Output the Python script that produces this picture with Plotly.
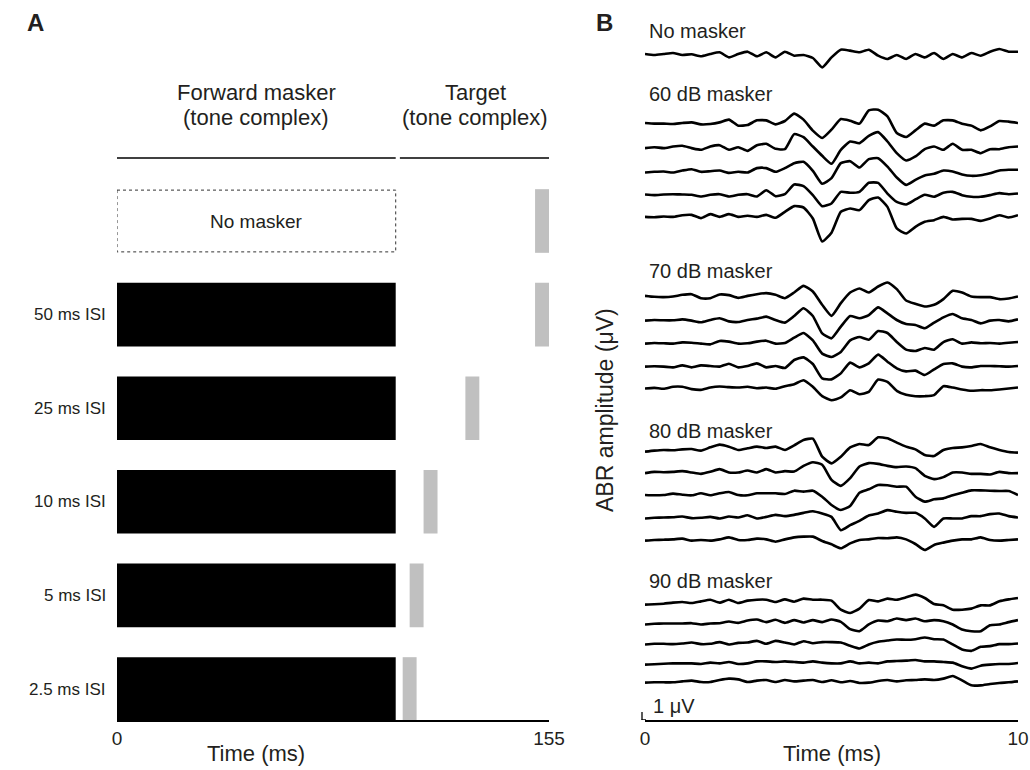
import plotly.graph_objects as go

# ---------------- Panel A data ----------------
conditions = ["No masker", "50 ms ISI", "25 ms ISI", "10 ms ISI", "5 ms ISI", "2.5 ms ISI"]
has_masker = [False, True, True, True, True, True]
isi_ms = [50, 50, 25, 10, 5, 2.5]
masker_ms = 100
target_ms = 5
time_ticks_a = [0, 155]

# ---------------- Panel B data (ABR traces, µV) ----------------
abr_time_ms = [0, 0.25, 0.5, 0.75, 1, 1.25, 1.5, 1.75, 2, 2.25, 2.5, 2.75, 3, 3.25, 3.5, 3.75,
               4, 4.25, 4.5, 4.75, 5, 5.25, 5.5, 5.75, 6, 6.25, 6.5, 6.75, 7, 7.25, 7.5, 7.75,
               8, 8.25, 8.5, 8.75, 9, 9.25, 9.5, 9.75, 10]
time_ticks_b = [0, 10]

abr_no_masker = [0, -0.12, 0, 0.12, -0.12, -0.04, -0.29, 0, 0.21, -0.42, 0, 0.29, -0.29, 0.21, -0.42, 0.29,
                 -0.21, -0.12, -0.5, -1.67, -0.42, 0.54, 0.42, 0.21, 0.54, -0.21, -0.62, -0.12, -0.62, 0,
                 -0.42, 0.12, -0.62, 0, -0.42, 0.12, -0.21, 0.29, 0.62, 0.29, 0.29]

abr_60db = [
    [0, -0.08, -0.08, -0.12, 0, 0.08, -0.17, -0.12, 0.08, 0.42, -0.33, -0.25, 0.33, 0.33, -0.17, 0.25,
     1.17, 0.42, -0.96, -1.87, -0.83, 0.5, 0.29, -0.08, 1.58, 1.67, 0.83, -1.25, -1.75, -0.92, -0.08,
     -0.33, 0.33, 0.33, -0.08, -0.33, -0.92, -0.42, 0.25, 0.17, 0],
    [-0.08, 0.04, -0.08, 0.12, 0.21, -0.08, -0.29, 0.12, 0.29, -0.29, 0.04, -0.42, 0.29, 0.46, -0.17, -0.21,
     1.67, 1.29, 0.12, -1.04, -2.04, -0.29, 0.75, 0.54, 1.46, 1.92, 0.75, -0.71, -1.62, -1.12, -0.21,
     0.12, -0.29, 0.46, -0.29, -0.29, -0.71, -0.21, -0.21, 0.04, 0.12],
    [-0.12, -0.04, 0, -0.12, 0.12, 0.29, -0.04, 0.04, 0.12, -0.17, -0.04, -0.12, 0.42, 0.42, -0.04, 0.42,
     1.04, 1.21, 0.08, -1.54, -0.83, 1.04, 1.29, 0.5, 1.54, 1.67, 0.62, -0.75, -1.67, -1.04, -0.5,
     -0.29, 0.12, 0, -0.37, -0.54, -0.46, -0.21, 0.12, 0.21, 0.21],
    [0, -0.08, 0, 0.04, 0, -0.04, -0.25, -0.04, 0.04, -0.25, -0.04, 0.04, -0.25, 0.54, -0.21, 0.04,
     1.25, 1.04, -0.08, -1.46, -1.12, 0.33, 0.21, 0.33, 1.46, 1.46, 0.12, -0.92, -1.25, -0.62, -0.04,
     -0.29, 0.21, 0.33, -0.08, -0.29, -0.29, -0.08, 0.17, 0.04, 0.12],
    [0.08, 0.04, 0.12, 0.08, 0.29, 0.33, -0.08, 0.42, 0.08, 0.42, 0.08, 0.21, 0.08, 0.33, -0.04, 0.71,
     1.42, 1.25, -0.12, -3.0, -1.9, 0.71, 1.12, 0.92, 2.17, 2.5, 1.33, -1.37, -2.0, -1.17, -0.54,
     -0.33, 0.08, -0.25, -0.17, -0.17, -0.42, -0.12, 0.29, 0, 0.29],
]

abr_70db = [
    [0.08, -0.04, -0.08, 0, 0.21, 0.29, -0.21, -0.21, 0.25, 0.17, -0.17, 0.08, 0.29, 0.42, 0.21, -0.21,
     0.5, 1.33, 0.62, -1.04, -2.42, -0.83, 0.5, 1.0, 0.5, 1.25, 1.75, 0.92, -0.5, -0.92, -1.25,
     -1.04, -0.33, 0.71, 0.5, 0, -0.08, -0.08, -0.33, -0.25, 0],
    [-0.08, 0, -0.04, -0.04, 0.08, -0.08, -0.29, 0, 0.21, -0.17, -0.25, 0, 0.17, 0.42, 0, -0.33,
     0.5, 1.46, 0.5, -1.67, -2.29, -0.83, 0.5, 0.21, 0.62, 1.58, 0.83, 0, -0.5, -0.62, -1.04,
     -0.33, 0.33, 0.75, 0.21, 0, -0.42, -0.08, 0, -0.17, 0.08],
    [-0.08, 0, -0.04, -0.08, 0.08, 0.04, -0.08, -0.17, 0.25, 0.17, -0.08, -0.04, 0.17, 0.29, -0.08, 0,
     0.67, 1.25, 0.33, -1.33, -1.75, -1.12, 0.33, 0.75, 0.42, 1.5, 1.25, 0.12, -0.83, -1.0, -0.62,
     -0.83, 0.12, 0.46, -0.08, 0.08, -0.04, 0, -0.08, 0.04, 0.12],
    [-0.08, -0.04, -0.08, -0.17, 0.08, -0.17, 0.08, 0, -0.08, 0.29, -0.17, 0, 0.33, -0.17, 0, -0.25,
     0.75, 1.08, 0.25, -1.54, -1.67, -0.92, 0.42, -0.17, 0.33, 1.42, 0.54, -0.29, -0.67, -0.58, -1.12,
     -0.42, 0.25, 0.33, -0.08, -0.17, 0, 0, -0.04, -0.08, 0],
    [0, 0.08, -0.04, 0.21, 0.21, -0.08, -0.17, 0.12, 0.25, 0.17, 0.12, 0.21, 0.04, 0.12, -0.04, 0.29,
     0.54, 1.04, 0.21, -0.96, -1.46, -1.12, -0.21, -0.71, -0.42, 1.12, 0.83, -0.29, -0.79, -0.96, -0.96,
     -0.83, 0.29, 0.12, -0.12, -0.29, -0.21, -0.21, -0.12, 0, 0.12],
]

abr_80db = [
    [-0.21, -0.08, 0, -0.04, 0.08, 0.12, -0.08, 0.33, 0.67, 0.42, 0, 0.21, 0.42, 0.25, 0.42, 0,
     0.58, 1.25, 1.42, -0.83, -1.67, -0.83, 0.33, 0.75, 0.62, 1.58, 1.46, 0.92, 0.42, 0.08, -0.62,
     -0.75, 0, 0.25, 0.33, 0.5, 0.75, 0.33, 0, -0.25, -0.33],
    [-0.08, 0.08, 0.04, 0.08, 0.17, 0, -0.17, 0.08, 0.42, 0, 0, 0.25, 0, 0.42, 0, 0.17,
     0.12, 0.83, 1.29, 0.96, -0.92, -1.67, -0.71, 0.75, 1.17, 1.08, 0.83, 0.67, 0.75, 0.54, -0.42,
     -0.83, -0.58, 0, 0, -0.17, -0.17, -0.25, 0.08, -0.08, -0.08],
    [0, -0.04, 0, 0.17, 0.04, -0.04, 0.21, -0.04, 0.21, 0.37, 0, -0.04, 0.21, 0.21, 0.21, 0.12,
     0.54, 0.42, 0.54, -0.21, -1.25, -1.87, -1.37, 0.29, 0.71, 1.25, 1.21, 1.04, 1.04, -0.21, -0.83,
     -0.54, -0.42, -0.04, 0.29, 0.58, 0.58, 0.54, 0.5, 0.5, 0],
    [-0.12, -0.04, 0, 0.04, 0.12, -0.08, -0.04, 0.08, -0.12, 0.12, 0, 0.29, -0.12, 0.08, 0.33, 0.17,
     0.33, 0.58, 0.79, 0.5, 0.08, -1.58, -0.96, -0.42, 0.25, 0.5, 0.92, 0.71, 0.58, 0.58, -0.12,
     -1.17, -0.12, -0.12, -0.12, 0.17, 0.17, 0.42, 0.5, 0.17, 0],
    [-0.08, 0, 0.04, 0.08, 0.17, -0.08, 0, -0.08, 0.08, 0.33, 0, 0, 0.17, 0.08, -0.21, 0.08,
     0.33, 0.42, 0.42, -0.12, -0.54, -1.04, -0.42, 0, 0.08, 0.25, 0.21, 0.33, 0.08, -0.5, -1.25,
     -0.62, -0.33, -0.08, 0.08, 0.08, 0.33, 0, -0.08, 0, 0.08],
]

abr_90db = [
    [-0.08, -0.04, 0.04, 0.17, 0.25, 0.12, 0.33, 0.54, 0.17, 0.54, 0.12, 0.42, 0.54, 0.54, 0.25, 0.58,
     0.29, 0.67, 0.54, 0.54, 0.42, -0.71, -1.12, -0.58, 0.5, 0.33, 0.67, 0.54, 0.83, 1.17, 0.75,
     0, -0.17, -0.71, -0.71, -0.58, -0.17, -0.17, 0.33, 0.58, 0.75],
    [-0.12, -0.04, 0, 0, 0, 0.04, -0.12, 0, 0.04, 0.25, 0.08, 0.37, 0.5, 0.17, 0.46, 0.08,
     0.42, 0.12, 0.42, 0.17, 0.5, 0.21, -0.71, -0.96, -0.12, 0.37, 0.29, 0.62, 0.42, 0.62, 0.29,
     0.42, 0.29, -0.12, -0.75, -0.96, -0.96, -0.21, -0.12, 0.17, 0.42],
    [-0.12, -0.04, -0.04, -0.08, 0, 0.12, -0.08, -0.04, 0.17, -0.12, 0.08, 0.12, 0.33, -0.04, 0.33, 0.12,
     -0.12, 0.29, 0.04, 0.17, 0.17, 0.12, -0.29, -0.62, -0.12, 0.21, 0.37, 0.5, 0.46, 0.54, 0.75,
     0.54, 0.5, -0.12, -0.75, -0.92, -0.42, -0.33, -0.08, -0.08, 0],
    [-0.08, -0.04, 0.04, 0.08, 0.08, 0.08, 0, 0.17, 0.08, 0.25, 0, 0.08, 0.33, 0.33, 0.25, 0.33,
     0.25, 0.17, 0.33, 0.17, 0.08, 0.08, 0.33, 0.08, 0.17, 0.08, 0.33, 0.37, 0.42, 0.5, 0.33,
     0.33, 0.25, 0.17, -0.29, -0.58, -0.21, -0.08, 0, 0, 0.12],
    [-0.08, -0.04, -0.04, -0.04, 0.08, 0.17, 0, 0, 0.25, 0.42, 0.33, 0, 0.17, 0.25, 0, 0.25,
     0.08, 0.17, 0.25, 0, 0.21, -0.04, 0.12, -0.12, -0.08, 0.12, 0.25, 0.08, 0.21, 0.25, 0.33,
     0.25, 0.42, 0.75, 0.21, -0.42, -0.42, -0.25, -0.12, -0.04, 0.08],
]

group_labels = ["No masker", "60 dB masker", "70 dB masker", "80 dB masker", "90 dB masker"]
group_traces = [[abr_no_masker], abr_60db, abr_70db, abr_80db, abr_90db]
scale_bar_uv = 1

# ---------------- layout constants (pixels of the 1030x770 page) ----------------
W, H = 1030, 770


def px(x):
    return x / W


def py(y):
    return 1 - y / H


TXT = "#231f20"
FONT = "Liberation Sans, Arial, Helvetica, sans-serif"
FS_HDR, FS_BOX, FS_ROW, FS_LAB, FS_AX, FS_YT, FS_TICK = 22, 19, 17, 20, 22, 23, 19
UV_PER_PX = 1 / 8.0            # vertical scale of panel B
B_TOP_PX, AXIS_PX = 30, 720
b_range_top = (AXIS_PX - B_TOP_PX) * UV_PER_PX
baseline_px = [[54],
               [123, 147.5, 171.5, 194.5, 217.5],
               [296.5, 320, 343, 366, 388.5],
               [450, 472.5, 495, 517.5, 540],
               [604, 623.5, 643.5, 664, 682]]
label_px_y = [31, 94, 271, 431, 581]

fig = go.Figure()

# ---- Panel A bars ----
rows = list(range(len(conditions)))
m_rows = [r for r, h in zip(rows, has_masker) if h]
fig.add_trace(go.Bar(orientation="h", y=m_rows, x=[masker_ms] * len(m_rows), base=[0] * len(m_rows),
                     width=0.68, marker=dict(color="black", line=dict(width=0)),
                     xaxis="x", yaxis="y", showlegend=False, hoverinfo="skip"))
fig.add_trace(go.Bar(orientation="h", y=rows, x=[target_ms] * len(rows),
                     base=[masker_ms + s for s in isi_ms],
                     width=0.68, marker=dict(color="#c0c0c0", line=dict(width=0)),
                     xaxis="x", yaxis="y", showlegend=False, hoverinfo="skip"))

# ---- Panel B traces ----
for traces, bases in zip(group_traces, baseline_px):
    for vals, bpx in zip(traces, bases):
        assert len(vals) == len(abr_time_ms)
        off = (AXIS_PX - bpx) * UV_PER_PX
        fig.add_trace(go.Scatter(x=abr_time_ms, y=[off + v for v in vals], mode="lines",
                                 line=dict(color="black", width=2.6, shape="spline", smoothing=0.5),
                                 xaxis="x2", yaxis="y2", showlegend=False, hoverinfo="skip"))

shapes = []
annotations = []


def txt(x, y, s, size, xref="paper", yref="paper", bold=False, xanchor="center", yanchor="middle", **kw):
    d = dict(xref=xref, yref=yref, x=x, y=y, text=f"<b>{s}</b>" if bold else s, showarrow=False,
             xanchor=xanchor, yanchor=yanchor, font=dict(size=size, color=TXT))
    d.update(kw)
    annotations.append(d)


# dotted "no masker" box
no_idx = conditions.index("No masker")
shapes.append(dict(type="rect", xref="x", yref="y", x0=0, x1=masker_ms, y0=no_idx - 0.33, y1=no_idx + 0.33,
                   line=dict(color="#333333", width=1, dash="dot"), fillcolor="rgba(0,0,0,0)"))
txt(masker_ms / 2, no_idx, "No masker", FS_BOX, xref="x", yref="y")

# header lines + texts
hdr_y = py(158)
tgt_hdr = [masker_ms + 1.5, 155.5]
shapes.append(dict(type="line", xref="x", yref="paper", x0=0, x1=masker_ms, y0=hdr_y, y1=hdr_y,
                   line=dict(color="black", width=1.3)))
shapes.append(dict(type="line", xref="x", yref="paper", x0=tgt_hdr[0], x1=tgt_hdr[1], y0=hdr_y, y1=hdr_y,
                   line=dict(color="black", width=1.3)))
for s, yy in [("Forward masker", 92), ("(tone complex)", 118)]:
    txt(masker_ms / 2, py(yy), s, FS_HDR, xref="x")
for s, yy in [("Target", 92), ("(tone complex)", 118)]:
    txt(sum(tgt_hdr) / 2, py(yy), s, FS_HDR, xref="x")

# row labels
for r, (lab, h) in enumerate(zip(conditions, has_masker)):
    if h:
        txt(px(108), r, lab, FS_ROW, yref="y", xanchor="right")

# panel letters
txt(px(35), py(22), "A", 24, bold=True)
txt(px(604), py(22), "B", 24, bold=True)

# axis titles
txt(masker_ms / 2, py(753), "Time (ms)", FS_AX, xref="x")
txt(5, py(753), "Time (ms)", FS_AX, xref="x2")
txt(px(605), py(410), "ABR amplitude (μV)", FS_YT, textangle=-90)

# group labels
for lab, yy in zip(group_labels, label_px_y):
    txt(px(647), py(yy), lab, FS_LAB, xanchor="left")

# scale bar (1 µV) joined to the time axis
shapes.append(dict(type="line", xref="paper", yref="y2", x0=px(642), x1=px(642), y0=0, y1=scale_bar_uv,
                   line=dict(color="black", width=1.3)))
shapes.append(dict(type="line", xref="paper", yref="y2", x0=px(641.5), x1=px(646), y0=0, y1=0,
                   line=dict(color="black", width=1.5)))
txt(px(651), py(706), "1 μV", FS_LAB, xanchor="left")

# y range of panel A: row 0 centre at 221px, spacing 93.6px, bottom at 720px, top at 160px
row0_px, row_step = 221, 93.6
a_top_px = 160
ya_bottom = (AXIS_PX - row0_px) / row_step
ya_top = (a_top_px - row0_px) / row_step

fig.update_layout(
    width=W, height=H, margin=dict(l=0, r=0, t=0, b=0, autoexpand=False),
    paper_bgcolor="white", plot_bgcolor="white", barmode="overlay", showlegend=False,
    font=dict(family=FONT, color=TXT, size=FS_TICK),
    shapes=shapes, annotations=annotations,
    xaxis=dict(domain=[px(117), px(549)], range=[0, 155], tickvals=time_ticks_a, ticks="",
               showline=True, linecolor="black", linewidth=2, showgrid=False, zeroline=False,
               tickfont=dict(size=FS_TICK, color=TXT), anchor="y", fixedrange=True, automargin=False),
    yaxis=dict(domain=[py(AXIS_PX), py(a_top_px)], range=[ya_bottom, ya_top], visible=False,
               anchor="x", fixedrange=True),
    xaxis2=dict(domain=[px(645), px(1018)], range=[0, 10], tickvals=time_ticks_b, ticks="",
                showline=True, linecolor="black", linewidth=1.5, showgrid=False, zeroline=False,
                tickfont=dict(size=FS_TICK, color=TXT), anchor="y2", fixedrange=True, automargin=False),
    yaxis2=dict(domain=[py(AXIS_PX), py(B_TOP_PX)], range=[0, b_range_top], visible=False,
                anchor="x2", fixedrange=True),
)

# remove the default 8px page margin so the figure sits exactly in the window
fig.write_html("out.html", config={"displayModeBar": False},
               post_script="document.body.style.margin='0px';document.body.style.overflow='hidden';")
